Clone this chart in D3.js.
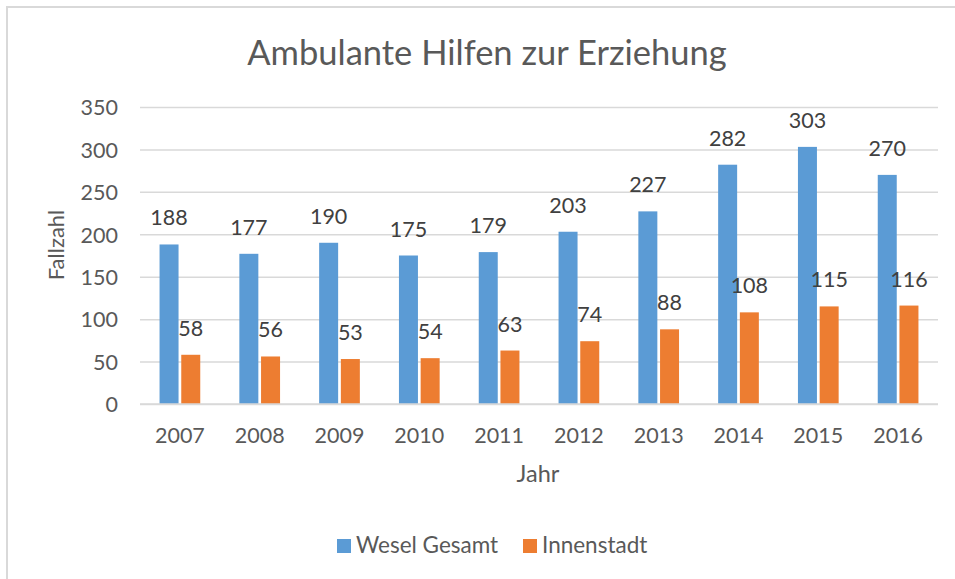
<!DOCTYPE html>
<html>
<head>
<meta charset="utf-8">
<script src="https://cdn.jsdelivr.net/npm/d3@7"></script>
<style>
  html, body { margin: 0; padding: 0; background: #fff; }
  svg { display: block; }
  text { font-family: "Lato", "Open Sans", sans-serif; }
</style>
</head>
<body>
<svg id="chart" width="955" height="579"></svg>
<script>
const years = ["2007","2008","2009","2010","2011","2012","2013","2014","2015","2016"];
const weselGesamt = [188,177,190,175,179,203,227,282,303,270];
const innenstadt = [58,56,53,54,63,74,88,108,115,116];
const seriesNames = ["Wesel Gesamt","Innenstadt"];
const seriesColors = ["#5b9bd5","#ed7d31"];
const yTicks = [0,50,100,150,200,250,300,350];
const titleText = "Ambulante Hilfen zur Erziehung";
const yTitle = "Fallzahl";
const xTitle = "Jahr";

const svg = d3.select("#chart");
const W = 955, H = 579;
const plot = { left: 140, right: 938, top: 107, bottom: 404 };

svg.append("rect").attr("width", W).attr("height", H).attr("fill", "#fff");
// frame (top and left edges visible)
svg.append("path")
  .attr("d", `M7,${H} L7,7 L${W},7`)
  .attr("fill", "none").attr("stroke", "#d9d9d9").attr("stroke-width", 2);

const x = d3.scaleBand().domain(years).range([plot.left, plot.right])
  .paddingInner(0.49).paddingOuter(0.245);
const xs = d3.scaleBand().domain(seriesNames).range([0, x.bandwidth()]).paddingInner(0.125);
const y = d3.scaleLinear().domain([0, 350]).range([plot.bottom, plot.top]);

// gridlines
const yAxis = d3.axisLeft(y).tickValues(yTicks).tickSize(-(plot.right - plot.left)).tickPadding(22);
const gy = svg.append("g").attr("transform", `translate(${plot.left},0)`).call(yAxis);
gy.select(".domain").remove();
gy.selectAll(".tick line").attr("stroke", "#d9d9d9").attr("stroke-width", 1.5);
gy.selectAll(".tick text").attr("fill", "#595959").attr("font-size", 21.5)
  .attr("font-family", "Lato, 'Open Sans', sans-serif").attr("dy", "0.36em");

const xAxis = d3.axisBottom(x).tickSize(0).tickPadding(24);
const gx = svg.append("g").attr("transform", `translate(0,${plot.bottom})`).call(xAxis);
gx.select(".domain").remove();
gx.selectAll(".tick text").attr("fill", "#595959").attr("font-size", 21.5)
  .attr("font-family", "Lato, 'Open Sans', sans-serif").attr("dy", "0.71em");

const data = [weselGesamt, innenstadt];
seriesNames.forEach((s, si) => {
  const g = svg.append("g");
  g.selectAll("rect").data(years).join("rect")
    .attr("x", d => x(d) + xs(s))
    .attr("width", xs.bandwidth())
    .attr("y", (d, i) => y(data[si][i]))
    .attr("height", (d, i) => y(0) - y(data[si][i]))
    .attr("fill", seriesColors[si]);
});
// zero line on top
svg.append("line").attr("x1", plot.left).attr("x2", plot.right)
  .attr("y1", y(0)).attr("y2", y(0)).attr("stroke", "#d9d9d9").attr("stroke-width", 1.5);

seriesNames.forEach((s, si) => {
  svg.append("g").selectAll("text").data(years).join("text")
    .attr("x", d => x(d) + xs(s) + xs.bandwidth() / 2)
    .attr("y", (d, i) => y(data[si][i]) - 19)
    .attr("text-anchor", "middle")
    .attr("font-size", 21.5)
    .attr("fill", "#404040")
    .text((d, i) => data[si][i]);
});

// title
svg.append("text").attr("x", 487).attr("y", 65).attr("text-anchor", "middle")
  .attr("font-size", 34.5).attr("fill", "#595959").text(titleText);

// axis titles
svg.append("text").attr("transform", "translate(64,245) rotate(-90)")
  .attr("text-anchor", "middle").attr("font-size", 22).attr("fill", "#595959").text(yTitle);
svg.append("text").attr("x", 538).attr("y", 482).attr("text-anchor", "middle")
  .attr("font-size", 23.5).attr("fill", "#595959").text(xTitle);

// legend
const legend = svg.append("g");
const legendX = [337, 523];
seriesNames.forEach((s, si) => {
  legend.append("rect").attr("x", legendX[si]).attr("y", 539).attr("width", 14).attr("height", 14)
    .attr("fill", seriesColors[si]);
  legend.append("text").attr("x", legendX[si] + 19).attr("y", 552.5)
    .attr("font-size", 22.5).attr("fill", "#595959").text(s);
});
</script>
</body>
</html>
